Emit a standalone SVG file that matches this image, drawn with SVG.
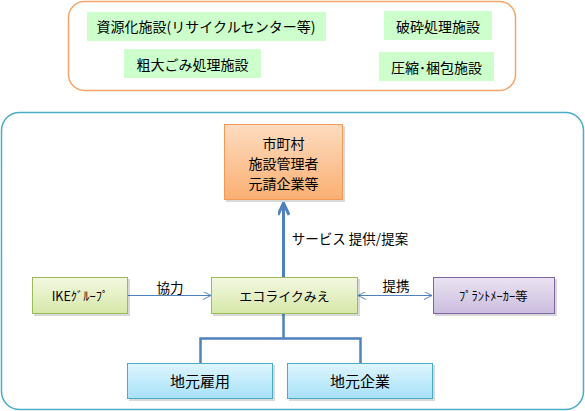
<svg xmlns="http://www.w3.org/2000/svg" width="585" height="411" viewBox="0 0 585 411">
<style>
text{font-family:"Noto Sans CJK JP","Noto Sans",sans-serif;fill:#000;text-anchor:middle;dominant-baseline:central}
.lbl{fill:#CCFFCC}
.shadow{fill:#000;opacity:0.15}
.conn{fill:none;stroke:#4F81BD}
</style>
<defs>
<linearGradient id="gOr" x1="0" y1="0" x2="0" y2="1"><stop offset="0" stop-color="#FDDCC0"/><stop offset="1" stop-color="#FAAF72"/></linearGradient>
<linearGradient id="gGr" x1="0" y1="0" x2="0" y2="1"><stop offset="0" stop-color="#F3F8E2"/><stop offset="1" stop-color="#D6E8A8"/></linearGradient>
<linearGradient id="gPu" x1="0" y1="0" x2="0" y2="1"><stop offset="0" stop-color="#EAE3F1"/><stop offset="1" stop-color="#CBBDDF"/></linearGradient>
<linearGradient id="gBl" x1="0" y1="0" x2="0" y2="1"><stop offset="0" stop-color="#DFF5FD"/><stop offset="1" stop-color="#A6E1F8"/></linearGradient>
<marker id="open" viewBox="0 0 10 10" refX="10" refY="5" markerWidth="8" markerHeight="8" orient="auto-start-reverse" markerUnits="userSpaceOnUse"><path d="M0,0 L10,5 L0,10" fill="none" stroke="#4F81BD" stroke-width="1.2"/></marker>
<marker id="big" viewBox="0 0 14 12" refX="13" refY="6" markerWidth="14" markerHeight="12" orient="auto" markerUnits="userSpaceOnUse"><path d="M1,0.5 L13,6 L1,11.5" fill="none" stroke="#4F81BD" stroke-width="3"/></marker>
</defs>

<g id="top-container">
<rect x="68.5" y="1.5" width="447" height="89" rx="16" fill="#fff" stroke="#F4A56A" stroke-width="1.5"/>
</g>
<g id="lbl-shigenka"><rect class="lbl" x="87" y="12" width="239" height="29"/><text x="206" y="26" font-size="14">資源化施設(リサイクルセンター等)</text></g>
<g id="lbl-hasai"><rect class="lbl" x="384" y="11" width="108" height="29"/><text x="438" y="25.5" font-size="14">破砕処理施設</text></g>
<g id="lbl-sodai"><rect class="lbl" x="124" y="49" width="137" height="29"/><text x="192.5" y="63.5" font-size="14">粗大ごみ処理施設</text></g>
<g id="lbl-asshuku"><rect class="lbl" x="379" y="52" width="115" height="29"/><text x="436.5" y="66.5" font-size="14">圧縮･梱包施設</text></g>

<g id="bottom-container">
<rect x="1.5" y="112.5" width="582" height="297" rx="18" fill="#fff" stroke="#4BACC6" stroke-width="1.5"/>
</g>

<g id="connectors">
<path class="conn" d="M283.5,277 V203" stroke-width="3" marker-end="url(#big)"/>
<path class="conn" d="M283.5,314 V338.5 H200.5 V363 M283.5,338.5 H360.5 V363" stroke="#4F6FA5" stroke-width="2.5"/>
<path class="conn" d="M128,295.5 H211" stroke-width="1.2" marker-end="url(#open)"/>
<path class="conn" d="M358,295.5 H432" stroke-width="1.2" marker-start="url(#open)" marker-end="url(#open)"/>
<text x="350" y="238" font-size="13.5">サービス 提供/提案</text>
<text x="170" y="287" font-size="13.5">協力</text>
<text x="396" y="285" font-size="13.5">提携</text>
</g>

<g id="node-shichoson">
<rect class="shadow" x="226" y="126" width="119" height="76"/>
<rect x="224.5" y="124.5" width="118" height="75" fill="url(#gOr)" stroke="#F09A55" stroke-width="1"/>
<text x="283.5" y="143" font-size="14">市町村</text>
<text x="283.5" y="163" font-size="14">施設管理者</text>
<text x="283.5" y="182.5" font-size="14">元請企業等</text>
</g>

<g id="node-ike">
<rect class="shadow" x="34" y="279" width="96" height="37"/>
<rect x="32.5" y="277.5" width="95" height="36" fill="url(#gGr)" stroke="#9BBB59" stroke-width="1"/>
<text x="80" y="295.5" font-size="12.5">IKEｸﾞﾙｰﾌﾟ</text>
</g>

<g id="node-ecolike">
<rect class="shadow" x="213" y="279" width="147" height="37"/>
<rect x="211.5" y="277.5" width="146" height="36" fill="url(#gGr)" stroke="#9BBB59" stroke-width="1"/>
<text x="284.5" y="295.5" font-size="13">エコライクみえ</text>
</g>

<g id="node-plant">
<rect class="shadow" x="435" y="279" width="122" height="37"/>
<rect x="433.5" y="277.5" width="121" height="36" fill="url(#gPu)" stroke="#8064A2" stroke-width="1"/>
<text x="493.5" y="295.5" font-size="12.5">ﾌﾟﾗﾝﾄﾒｰｶｰ等</text>
</g>

<g id="node-koyo">
<rect class="shadow" x="129" y="365" width="146" height="36"/>
<rect x="127.5" y="363.5" width="145" height="35" fill="url(#gBl)" stroke="#4BACC6" stroke-width="1"/>
<text x="200" y="380.5" font-size="15">地元雇用</text>
</g>

<g id="node-kigyo">
<rect class="shadow" x="289" y="365" width="146" height="36"/>
<rect x="287.5" y="363.5" width="145" height="35" fill="url(#gBl)" stroke="#4BACC6" stroke-width="1"/>
<text x="360" y="380.5" font-size="15">地元企業</text>
</g>
</svg>
